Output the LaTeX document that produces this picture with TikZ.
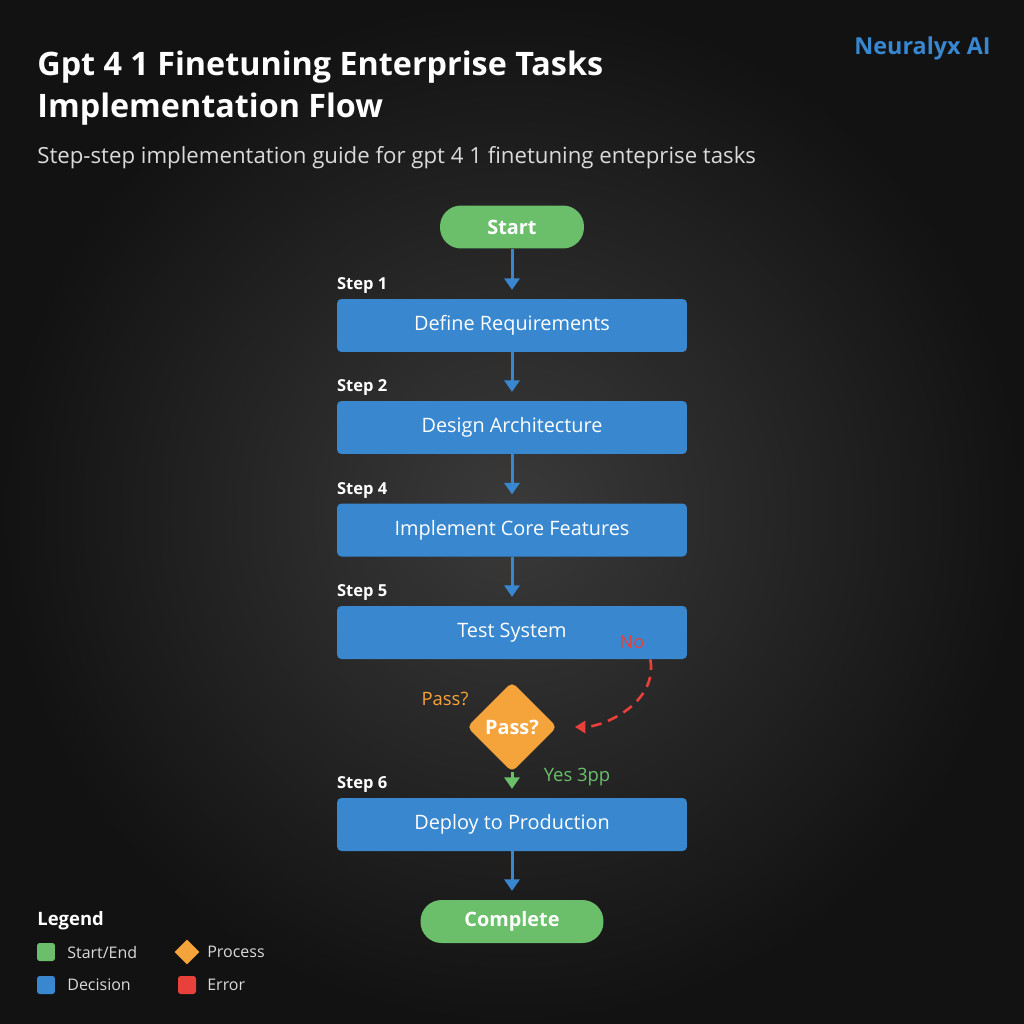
\documentclass[tikz,border=0pt]{standalone}
\usepackage{fontspec}
\setmainfont{Open Sans}
\usetikzlibrary{positioning,shapes.geometric,arrows.meta,calc}

\definecolor{bgin}{HTML}{3A3A3A}
\definecolor{bgout}{HTML}{121212}
\definecolor{boxblue}{HTML}{3887CF}
\definecolor{pillgreen}{HTML}{6BBF6B}
\definecolor{decorange}{HTML}{F5A33B}
\definecolor{errred}{HTML}{E8403A}
\definecolor{subgray}{HTML}{DADADA}

\tikzset{
  flowbox/.style={rectangle, fill=boxblue, rounded corners=2.5pt, minimum width=7cm,
    minimum height=1.06cm, text=white, font=\fontsize{11.3}{13}\selectfont},
  pill/.style={rectangle, fill=pillgreen, rounded corners=0.42cm, minimum height=0.86cm,
    text=white, font=\fontsize{11.3}{13}\selectfont\bfseries},
  steplbl/.style={anchor=south west, text=white, inner sep=0pt, yshift=2.5pt,
    font=\fontsize{9.4}{11}\selectfont\bfseries},
  decide/.style={diamond, fill=decorange, rounded corners=3pt, minimum width=1.8cm,
    minimum height=1.8cm, inner sep=0pt, text=white, font=\fontsize{11.3}{13}\selectfont\bfseries},
  flow/.style={boxblue, line width=1.7pt, -{Triangle[length=6.5pt,width=8.5pt]}, shorten >=5pt},
  legsq/.style={rectangle, rounded corners=1.5pt, minimum size=0.36cm, inner sep=0pt},
  legtxt/.style={anchor=west, text=subgray, inner sep=0pt, font=\fontsize{9.1}{11}\selectfont},
}

\begin{document}
\begin{tikzpicture}[x=0.02cm,y=-0.02cm]
% background
\shade[inner color=bgin, outer color=bgout] (0,0) rectangle (1024,1024);

% titles
\node[anchor=west, text=white, inner sep=0pt, font=\fontsize{18.4}{22}\selectfont\bfseries] (title1) at (37,67) {Gpt 4 1 Finetuning Enterprise Tasks};
\node[anchor=west, text=white, inner sep=0pt, font=\fontsize{18.4}{22}\selectfont\bfseries] (title2) at (37,109) {Implementation Flow};
\node[anchor=west, text=subgray, inner sep=0pt, font=\fontsize{12.65}{14}\selectfont] (subtitle) at (37,158) {Step-step implementation guide for gpt 4 1 finetuning enteprise tasks};
\node[anchor=east, text=boxblue, inner sep=0pt, font=\fontsize{13.3}{15}\selectfont\bfseries] (brand) at (991,48) {Neuralyx AI};

% flow
\node[pill, minimum width=2.88cm] (start) at (512,227) {Start};
\node[flowbox] (req) at (512,325.5) {Define Requirements};
\node[flowbox] (arch) at (512,427.5) {Design Architecture};
\node[flowbox] (impl) at (512,530) {Implement Core Features};
\node[flowbox] (test) at (512,632.5) {Test System};
\node[decide] (pass) at (512,727) {Pass?};
\node[flowbox] (deploy) at (512,824.5) {Deploy to Production};
\node[pill, minimum width=3.66cm] (done) at (512,921.5) {Complete};

\node[steplbl] (s1) at (req.north west) {Step 1};
\node[steplbl] (s2) at (arch.north west) {Step 2};
\node[steplbl] (s4) at (impl.north west) {Step 4};
\node[steplbl] (s5) at (test.north west) {Step 5};
\node[steplbl] (s6) at (deploy.north west) {Step 6};

\draw[flow] (start) -- (req);
\draw[flow] (req) -- (arch);
\draw[flow] (arch) -- (impl);
\draw[flow] (impl) -- (test);
\draw[flow, pillgreen, shorten >=5pt] (pass.south) -- (deploy.north);
\draw[flow] (deploy) -- (done);

% no branch
\coordinate (nofrom) at ($(test.south east)+(-37,0)$);
\draw[errred, line width=1.5pt, dash pattern=on 6pt off 4pt, -{Triangle[length=6pt,width=7pt]}, shorten >=10pt]
  (nofrom) to[out=-80, in=0] (pass.east);
\node[text=errred, font=\fontsize{10.3}{12}\selectfont] (nolbl) at (632,642) {No};
\node[text=decorange, font=\fontsize{10.5}{12}\selectfont] (passlbl) at (445,699) {Pass?};
\node[text=pillgreen, font=\fontsize{10.5}{12}\selectfont] (yeslbl) at (577,777) {Yes 3pp};

% legend
\node[anchor=west, text=white, inner sep=0pt, font=\fontsize{10.5}{12}\selectfont\bfseries] (legend) at (37,921) {Legend};
\node[legsq, fill=pillgreen] (lg1) at (46,952) {};
\node[legtxt] (lt1) at (67,952) {Start/End};
\node[diamond, fill=decorange, minimum size=0.5cm, inner sep=0pt] (lg2) at (187,952) {};
\node[legtxt] (lt2) at (207,952) {Process};
\node[legsq, fill=boxblue] (lg3) at (46,985) {};
\node[legtxt] (lt3) at (67,985) {Decision};
\node[legsq, fill=errred] (lg4) at (187,985) {};
\node[legtxt] (lt4) at (207,985) {Error};
\end{tikzpicture}
\end{document}
